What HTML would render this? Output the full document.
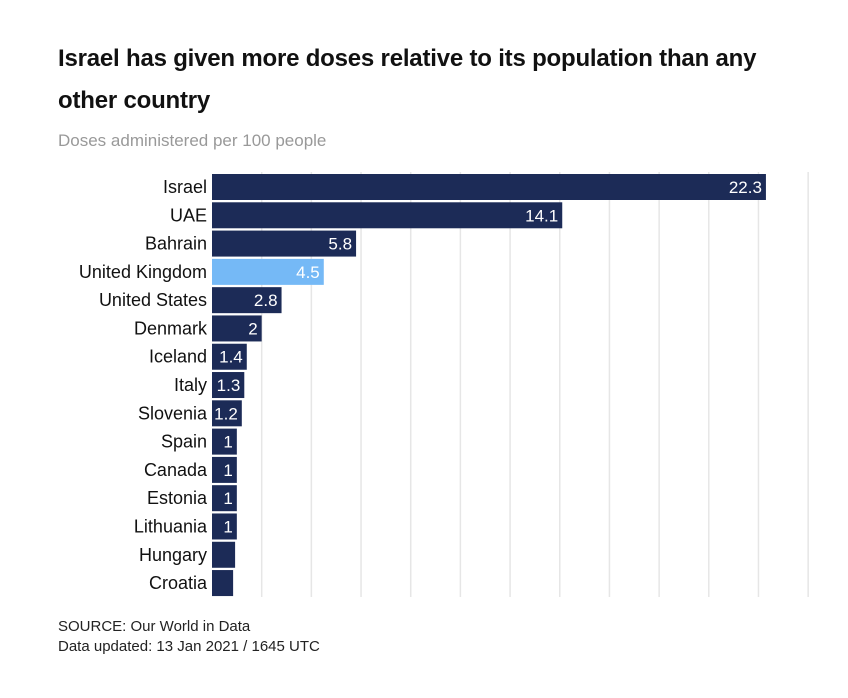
<!DOCTYPE html>
<html><head><meta charset="utf-8"><style>
body{margin:0;background:#fff;font-family:"Liberation Sans",sans-serif;}
#wrap{position:relative;width:848px;height:698px;overflow:hidden;}
h1{position:absolute;left:58px;top:38px;margin:0;width:745px;font-size:24px;line-height:42px;font-weight:bold;color:#111;letter-spacing:-0.2px}
.sub{position:absolute;left:58px;top:131px;font-size:17px;color:#999;}
.src{position:absolute;left:58px;top:617px;font-size:15px;color:#222;line-height:20px}
</style></head><body>
<div id="wrap">
<h1>Israel has given more doses relative to its population than any other country</h1>
<div class="sub">Doses administered per 100 people</div>
<svg id="chart" width="848" height="698" style="position:absolute;left:0;top:0"></svg>
<div class="src">SOURCE: Our World in Data<br>Data updated: 13 Jan 2021 / 1645 UTC</div>
</div>
<script>
const categories=["Israel","UAE","Bahrain","United Kingdom","United States","Denmark","Iceland","Italy","Slovenia","Spain","Canada","Estonia","Lithuania","Hungary","Croatia"];
const values=[22.3,14.1,5.8,4.5,2.8,2,1.4,1.3,1.2,1,1,1,1,0.93,0.85];
const labels=["22.3","14.1","5.8","4.5","2.8","2","1.4","1.3","1.2","1","1","1","1","",""];
const gridTicks=[2,4,6,8,10,12,14,16,18,20,22,24];
const highlight="United Kingdom";
const NS="http://www.w3.org/2000/svg";
const svg=document.getElementById('chart');
const x0=212,pxPerUnit=24.84,rowTop=174,rowStep=28.29,barH=26;
const x=v=>x0+v*pxPerUnit;
const y=i=>rowTop+i*rowStep;
function mk(t,a){const e=document.createElementNS(NS,t);for(const k in a)e.setAttribute(k,a[k]);svg.appendChild(e);return e;}
gridTicks.forEach(t=>{
 const l=mk('line',{x1:x(t),x2:x(t),y1:172,y2:597,stroke:'#e6e6e6','stroke-width':1.5});
 
 
});
categories.forEach((c,i)=>{
 const r=mk('rect',{x:x0,y:y(i),width:x(values[i])-x0,height:barH,fill:c===highlight?'#75b9f6':'#1c2b57'});
 
 
 const t=mk('text',{x:207,y:y(i)+barH/2+6,'text-anchor':'end','font-size':18,fill:'#111','font-family':'Liberation Sans, sans-serif'});
 t.textContent=c;
 
 
 if(labels[i]){
  const v=mk('text',{x:x(values[i])-4,y:y(i)+barH/2+6,'text-anchor':'end','font-size':17,fill:'#fff','font-family':'Liberation Sans, sans-serif'});
  v.textContent=labels[i];
  
  
 }
});
</script>
</body></html>
